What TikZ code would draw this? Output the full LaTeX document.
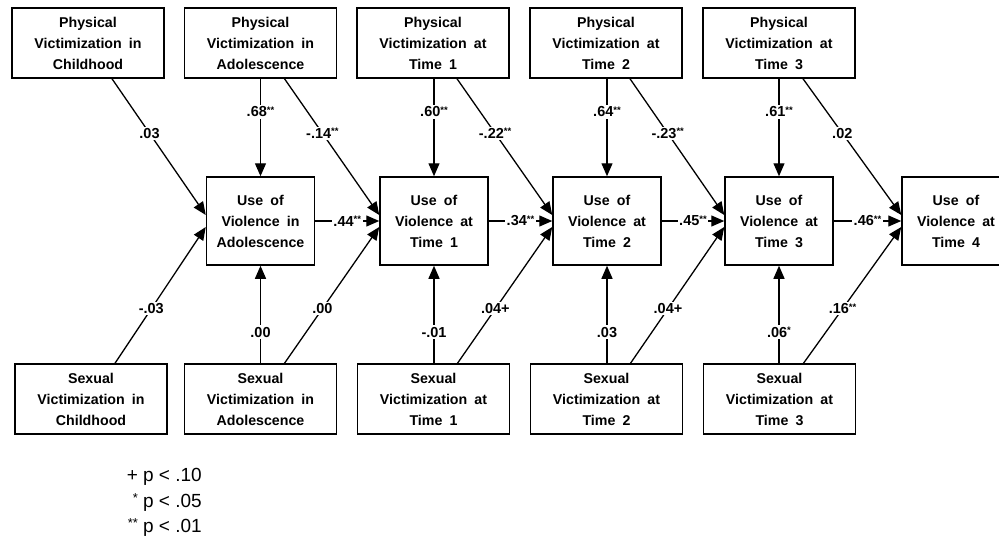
\documentclass[tikz,border=0pt]{standalone}
\usepackage{fontspec}
\setmainfont{Liberation Sans}
\usetikzlibrary{arrows.meta}
\newcommand\bxfont{\fontsize{14.2}{21}\selectfont\bfseries\spaceskip=0.5em plus 0.1em minus 0.05em\relax}
\newcommand\sig[1]{\raisebox{3.5pt}{\fontsize{9.5}{9.5}\selectfont #1}}
\newcommand\lsig[1]{\raisebox{5pt}{\fontsize{13}{13}\selectfont #1}}
\begin{document}
\begin{tikzpicture}[x=1pt,y=-1pt,
  vbox/.style={draw, line width=1.5pt, inner sep=0pt, align=center, font=\bxfont},
  obox/.style={vbox, minimum width=152pt, minimum height=70pt},
  ubox/.style={vbox, minimum width=108pt, minimum height=88pt},
  conn/.style={line width=1.3pt, -{Triangle[length=13pt,width=11pt]}},
  lab/.style={fill=white, inner sep=1.5pt, font=\fontsize{14.5}{14.5}\selectfont\bfseries},
  legend/.style={anchor=base east, inner sep=0pt, font=\fontsize{19}{19}\selectfont}
]
\useasboundingbox (0,0) rectangle (999,538);
\clip (0,0) rectangle (999,538);

% top boxes
\node[obox] (p1) at (88,43) {Physical\\Victimization in\\Childhood};
\node[obox] (p2) at (260.5,43) {Physical\\Victimization in\\Adolescence};
\node[obox] (p3) at (433,43) {Physical\\Victimization at\\Time 1};
\node[obox] (p4) at (606,43) {Physical\\Victimization at\\Time 2};
\node[obox] (p5) at (779,43) {Physical\\Victimization at\\Time 3};

% middle boxes
\node[ubox] (u1) at (260.5,221) {Use of\\Violence in\\Adolescence};
\node[ubox] (u2) at (434,221) {Use of\\Violence at\\Time 1};
\node[ubox] (u3) at (607,221) {Use of\\Violence at\\Time 2};
\node[ubox] (u4) at (779,221) {Use of\\Violence at\\Time 3};
\node[ubox] (u5) at (956,221) {Use of\\Violence at\\Time 4};

% bottom boxes
\node[obox] (s1) at (91,399) {Sexual\\Victimization in\\Childhood};
\node[obox] (s2) at (260.5,399) {Sexual\\Victimization in\\Adolescence};
\node[obox] (s3) at (433.5,399) {Sexual\\Victimization at\\Time 1};
\node[obox] (s4) at (606.5,399) {Sexual\\Victimization at\\Time 2};
\node[obox] (s5) at (779.5,399) {Sexual\\Victimization at\\Time 3};

% top diagonals
\draw[conn] ([xshift=24pt]p1.south) -- node[lab,pos=0.4]{.03} ([yshift=6pt]u1.west);
\draw[conn] ([xshift=24pt]p2.south) -- node[lab,pos=0.4]{-.14\sig{**}} ([yshift=6pt]u2.west);
\draw[conn] ([xshift=24pt]p3.south) -- node[lab,pos=0.4]{-.22\sig{**}} ([yshift=6pt]u3.west);
\draw[conn] ([xshift=24pt]p4.south) -- node[lab,pos=0.4]{-.23\sig{**}} ([yshift=6pt]u4.west);
\draw[conn] ([xshift=24pt]p5.south) -- node[lab,pos=0.4]{.02} ([yshift=6pt]u5.west);

% top verticals
\draw[conn] (u1.north |- p2.south) -- node[lab,pos=0.34]{.68\sig{**}} (u1.north);
\draw[conn] (u2.north |- p3.south) -- node[lab,pos=0.34]{.60\sig{**}} (u2.north);
\draw[conn] (u3.north |- p4.south) -- node[lab,pos=0.34]{.64\sig{**}} (u3.north);
\draw[conn] (u4.north |- p5.south) -- node[lab,pos=0.34]{.61\sig{**}} (u4.north);

% horizontals
\draw[conn] (u1.east) -- node[lab]{.44\sig{**}} (u2.west);
\draw[conn] (u2.east) -- node[lab]{.34\sig{**}} (u3.west);
\draw[conn] (u3.east) -- node[lab]{.45\sig{**}} (u4.west);
\draw[conn] (u4.east) -- node[lab]{.46\sig{**}} (u5.west);

% bottom diagonals
\draw[conn] ([xshift=24pt]s1.north) -- node[lab,pos=0.4]{-.03} ([yshift=-6pt]u1.west);
\draw[conn] ([xshift=24pt]s2.north) -- node[lab,pos=0.4]{.00} ([yshift=-6pt]u2.west);
\draw[conn] ([xshift=24pt]s3.north) -- node[lab,pos=0.4]{.04+} ([yshift=-6pt]u3.west);
\draw[conn] ([xshift=24pt]s4.north) -- node[lab,pos=0.4]{.04+} ([yshift=-6pt]u4.west);
\draw[conn] ([xshift=24pt]s5.north) -- node[lab,pos=0.4]{.16\sig{**}} ([yshift=-6pt]u5.west);

% bottom verticals
\draw[conn] (u1.south |- s2.north) -- node[lab,pos=0.32]{.00} (u1.south);
\draw[conn] (u2.south |- s3.north) -- node[lab,pos=0.32]{-.01} (u2.south);
\draw[conn] (u3.south |- s4.north) -- node[lab,pos=0.32]{.03} (u3.south);
\draw[conn] (u4.south |- s5.north) -- node[lab,pos=0.32]{.06\sig{*}} (u4.south);

% legend
\node[legend] (l1) at (202,481) {+ p < .10};
\node[legend] (l2) at (202,507) {\lsig{*} p < .05};
\node[legend] (l3) at (202,532) {\lsig{**} p < .01};
\end{tikzpicture}
\end{document}
